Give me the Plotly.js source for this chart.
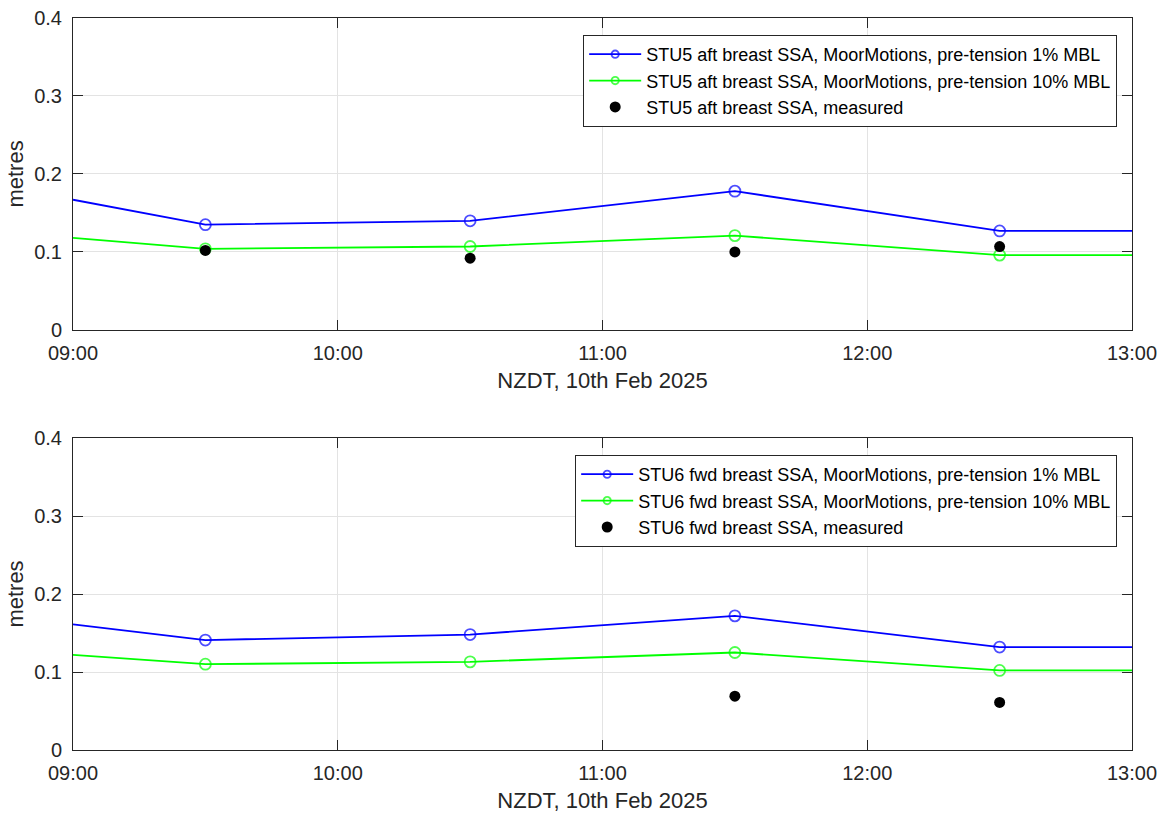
<!DOCTYPE html>
<html>
<head>
<meta charset="utf-8">
<script src="https://cdn.plot.ly/plotly-3.0.1.min.js"></script>
<style>html,body{margin:0;padding:0;background:#fff;}#chart{width:1168px;height:816px;}</style>
</head>
<body>
<div id="chart"></div>
<script>
// Times (NZDT, 10th Feb 2025)
const times = ['2025-02-10 09:00','2025-02-10 09:30','2025-02-10 10:30','2025-02-10 11:30','2025-02-10 12:30','2025-02-10 13:00'];
const markerShown = [0, 11, 11, 11, 11, 0];
const measTimes = ['2025-02-10 09:30','2025-02-10 10:30','2025-02-10 11:30','2025-02-10 12:30'];

// STU5 aft breast SSA
const stu5_1pct  = [0.167, 0.135, 0.140, 0.178, 0.127, 0.127];
const stu5_10pct = [0.118, 0.104, 0.107, 0.121, 0.096, 0.096];
const stu5_meas  = [0.102, 0.092, 0.100, 0.107];

// STU6 fwd breast SSA
const stu6_1pct  = [0.161, 0.141, 0.148, 0.172, 0.132, 0.132];
const stu6_10pct = [0.122, 0.110, 0.113, 0.125, 0.102, 0.102];
const stu6_measTimes = ['2025-02-10 11:30','2025-02-10 12:30'];
const stu6_meas  = [0.069, 0.061];

const names5 = ['STU5 aft breast SSA, MoorMotions, pre-tension 1% MBL','STU5 aft breast SSA, MoorMotions, pre-tension 10% MBL','STU5 aft breast SSA, measured'];
const names6 = ['STU6 fwd breast SSA, MoorMotions, pre-tension 1% MBL','STU6 fwd breast SSA, MoorMotions, pre-tension 10% MBL','STU6 fwd breast SSA, measured'];

const yTicks = [0, 0.1, 0.2, 0.3, 0.4];
const yTickText = ['0','0.1','0.2','0.3','0.4'];
const xTicks = ['2025-02-10 09:00','2025-02-10 10:00','2025-02-10 11:00','2025-02-10 12:00','2025-02-10 13:00'];
const xTickText = ['09:00','10:00','11:00','12:00','13:00'];

const blue = '#0000ff', green = '#00ff00';
const FONT = 'Liberation Sans, Arial, Helvetica, sans-serif';

function lineTrace(x, y, name, color, xa, ya, leg) {
  return {x: x, y: y, name: name, type: 'scatter', mode: 'lines+markers', xaxis: xa, yaxis: ya, legend: leg,
    line: {color: color, width: 1.8},
    marker: {symbol: 'circle-open', size: markerShown, color: color, line: {width: 1.8, color: color}},
    cliponaxis: true};
}
function measTrace(x, y, name, xa, ya, leg) {
  return {x: x, y: y, name: name, type: 'scatter', mode: 'markers', xaxis: xa, yaxis: ya, legend: leg,
    marker: {symbol: 'circle', size: 11, color: '#000000'}};
}

const data = [
  lineTrace(times, stu5_1pct, names5[0], blue, 'x', 'y', 'legend'),
  lineTrace(times, stu5_10pct, names5[1], green, 'x', 'y', 'legend'),
  measTrace(measTimes, stu5_meas, names5[2], 'x', 'y', 'legend'),
  lineTrace(times, stu6_1pct, names6[0], blue, 'x2', 'y2', 'legend2'),
  lineTrace(times, stu6_10pct, names6[1], green, 'x2', 'y2', 'legend2'),
  measTrace(stu6_measTimes, stu6_meas, names6[2], 'x2', 'y2', 'legend2')
];

function xaxis(anchor) {
  return {
    type: 'date', anchor: anchor, domain: [0, 1],
    range: ['2025-02-10 09:00', '2025-02-10 13:00'],
    tickmode: 'array', tickvals: xTicks, ticktext: xTickText,
    ticks: 'inside', ticklen: 10, tickwidth: 1, tickcolor: '#262626',
    showline: true, linecolor: '#262626', linewidth: 1, mirror: 'ticks',
    showgrid: true, gridcolor: '#e3e3e3', gridwidth: 1, zeroline: false,
    tickfont: {family: FONT, size: 20, color: '#262626'},
    ticklabelstandoff: 5,
    title: {text: 'NZDT, 10th Feb 2025', font: {family: FONT, size: 22, color: '#262626'}, standoff: 9}
  };
}
function yaxis(anchor, domain) {
  return {
    anchor: anchor, domain: domain, range: [0, 0.4],
    tickmode: 'array', tickvals: yTicks, ticktext: yTickText,
    ticks: 'inside', ticklen: 10, tickwidth: 1, tickcolor: '#262626',
    showline: true, linecolor: '#262626', linewidth: 1, mirror: 'ticks',
    showgrid: true, gridcolor: '#e3e3e3', gridwidth: 1, zeroline: false,
    tickfont: {family: FONT, size: 20, color: '#262626'},
    ticklabelstandoff: 6,
    title: {text: 'metres', font: {family: FONT, size: 22, color: '#262626'}, standoff: 4}
  };
}

const legendBase = {
  bgcolor: '#ffffff', bordercolor: '#262626', borderwidth: 1,
  font: {family: FONT, size: 18, color: '#000000'},
  xanchor: 'right', yanchor: 'top', x: 0.986, tracegroupgap: 0, itemwidth: 52
};

const layout = {
  width: 1168, height: 816,
  paper_bgcolor: '#ffffff', plot_bgcolor: '#ffffff',
  margin: {l: 73, r: 36, t: 18, b: 66},
  showlegend: true,
  xaxis: xaxis('y'),
  yaxis: yaxis('x', [0.5738, 1]),
  xaxis2: xaxis('y2'),
  yaxis2: yaxis('x2', [0, 0.4262]),
  legend: Object.assign({}, legendBase, {y: 0.9768}),
  legend2: Object.assign({}, legendBase, {y: 0.403})
};

Plotly.newPlot('chart', data, layout, {displayModeBar: false, staticPlot: true});
</script>
</body>
</html>
